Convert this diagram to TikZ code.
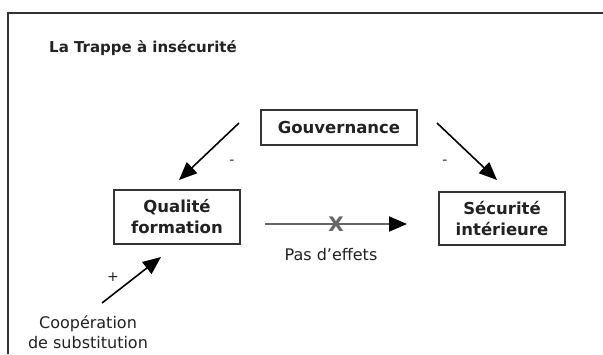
\documentclass[tikz,border=0pt]{standalone}
\usepackage{fontspec}
\setmainfont{DejaVu Sans}
\usetikzlibrary{arrows.meta}
\definecolor{ink}{HTML}{222222}
\definecolor{frameclr}{HTML}{333333}
\definecolor{greyline}{HTML}{666666}
\tikzset{
  box/.style={draw=frameclr, line width=1.2pt, inner sep=0pt, align=center, text=ink,
    font=\bfseries\fontsize{16.5}{21}\selectfont},
  lbl/.style={text=ink, inner sep=0pt, align=center, font=\fontsize{16}{20}\selectfont},
  sgn/.style={text=ink, inner sep=0pt, font=\fontsize{14}{16}\selectfont},
  arr/.style={draw=black, line width=1.6pt, -{Triangle[length=18pt,width=15pt]}},
}
\begin{document}
\begin{tikzpicture}[x=1pt,y=-1pt]
\useasboundingbox (0,0) rectangle (603,354);
\fill[white] (0,0) rectangle (603,354);
% frame
\draw[frameclr, line width=1.6pt] (8,354) -- (8,13) -- (603,13);
% title
\node[text=ink, inner sep=0pt, anchor=west, font=\bfseries\fontsize{15}{18}\selectfont] (title) at (49,48) {La Trappe à insécurité};
% boxes
\node[box, minimum width=156pt, minimum height=35pt] (gov) at (339,127.5) {Gouvernance};
\node[box, minimum width=126pt, minimum height=54pt] (qual) at (177,217) {Qualité\\formation};
\node[box, minimum width=126pt, minimum height=53pt] (secu) at (502,218.5) {Sécurité\\intérieure};
% connector end points
\coordinate (g1) at (239,123);
\coordinate (q1) at (179,180);
\coordinate (g2) at (437,123);
\coordinate (s1) at (497,180);
\coordinate (h1) at (265,224);
\coordinate (h2) at (407,224);
\coordinate (c1) at (102,303);
\coordinate (c2) at (161,257);
% arrows
\draw[arr] (g1) -- (q1);
\draw[arr] (g2) -- (s1);
\draw[line width=2pt, draw=greyline, -{Triangle[length=18pt,width=15pt,color=black]}] (h1) -- (h2);
\draw[arr] (c1) -- (c2);
% labels
\node[text=greyline, inner sep=0pt, font=\bfseries\fontsize{20}{20}\selectfont] (x) at (336,224) {X};
\node[sgn] (m1) at (232,162) {-};
\node[sgn] (m2) at (445,162) {-};
\node[sgn] (p1) at (113,277) {+};
\node[lbl] (pas) at (331,255) {Pas d’effets};
\node[lbl] (coop) at (88,332) {Coopération\\de substitution};
\end{tikzpicture}
\end{document}
